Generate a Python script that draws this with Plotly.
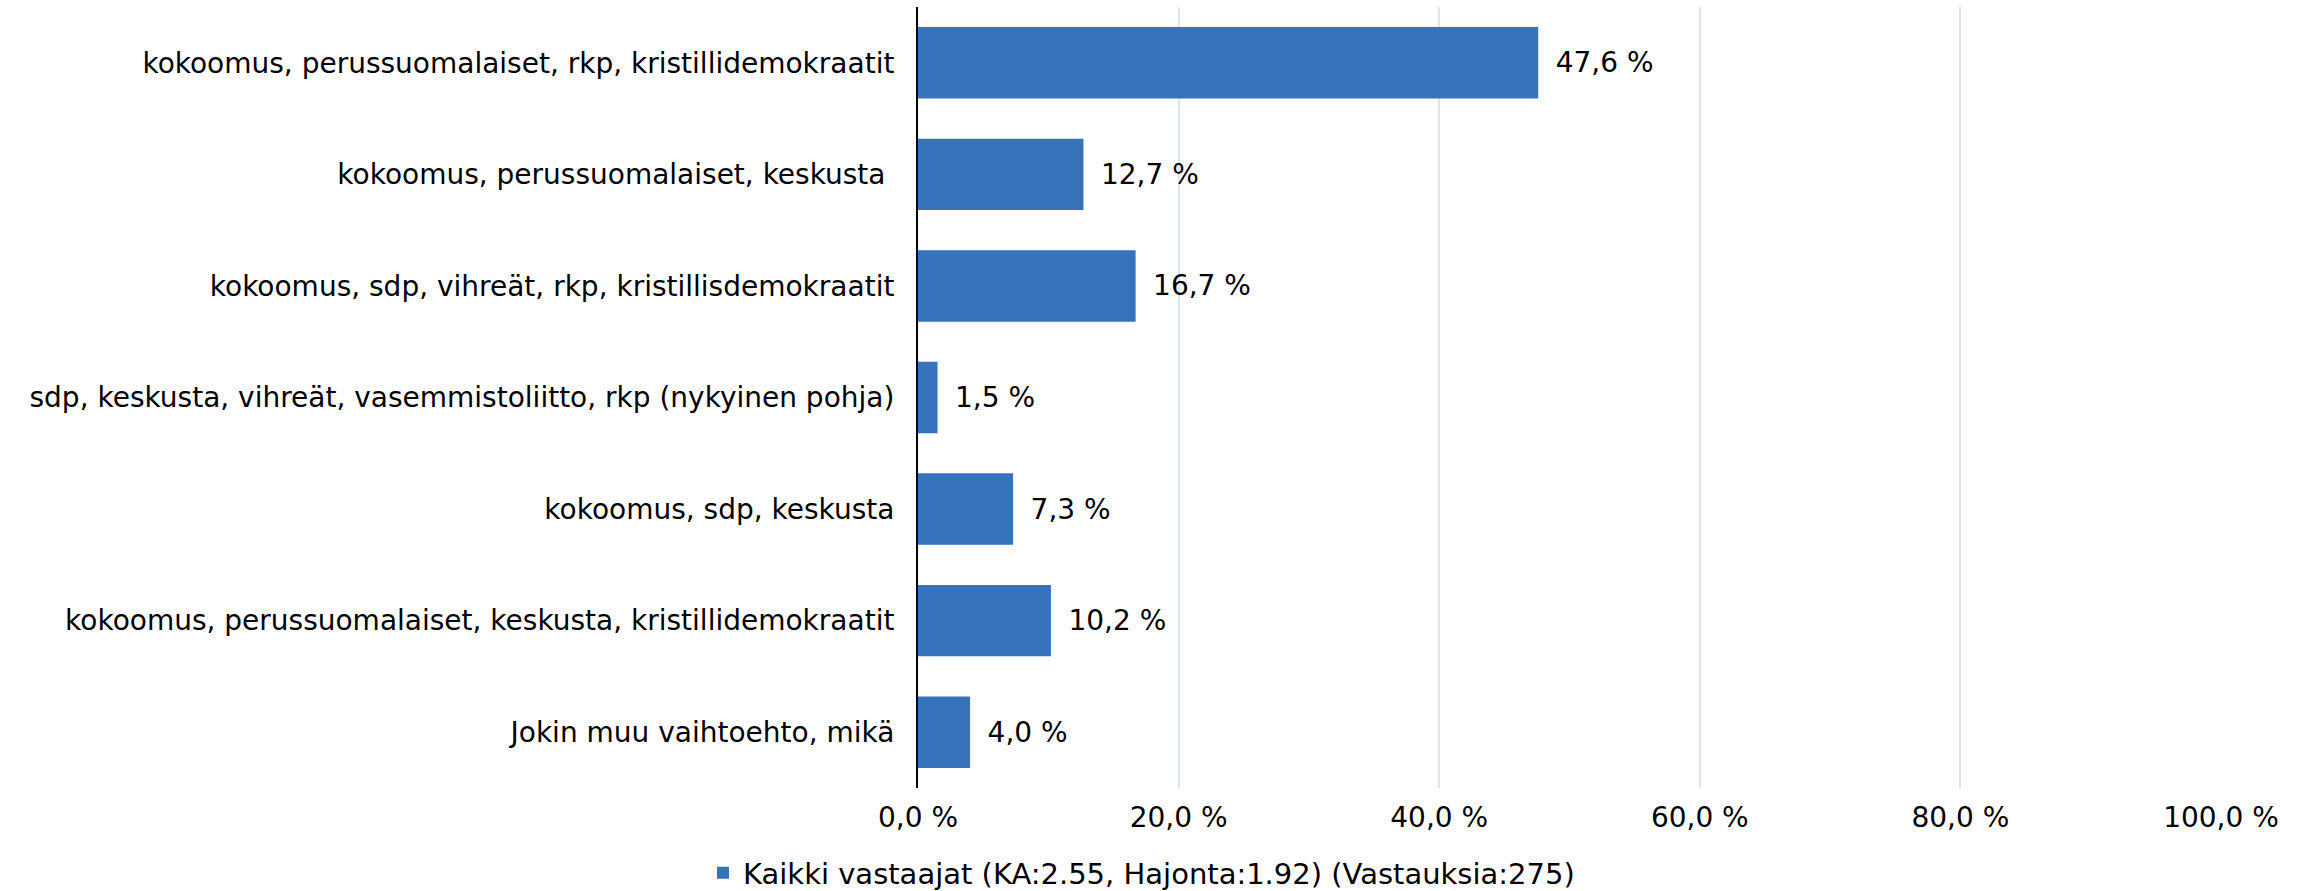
import plotly.graph_objects as go

categories = [
    "kokoomus, perussuomalaiset, rkp, kristillidemokraatit",
    "kokoomus, perussuomalaiset, keskusta\u00a0",
    "kokoomus, sdp, vihreät, rkp, kristillisdemokraatit",
    "sdp, keskusta, vihreät, vasemmistoliitto, rkp (nykyinen pohja)",
    "kokoomus, sdp, keskusta",
    "kokoomus, perussuomalaiset, keskusta, kristillidemokraatit",
    "Jokin muu vaihtoehto, mikä",
]
values = [47.6, 12.7, 16.7, 1.5, 7.3, 10.2, 4.0]
series_name = "Kaikki vastaajat (KA:2.55, Hajonta:1.92) (Vastauksia:275)"
x_tick_vals = [0, 20, 40, 60, 80, 100]
x_tick_text = ["0,0 %", "20,0 %", "40,0 %", "60,0 %", "80,0 %", "100,0 %"]

FONT = "DejaVu Sans"
FS = 28
W, H = 2308, 891
L, R, T, B = 918, 87, 7, 103
pw = W - L - R
ph = H - T - B
plot_bottom = T + ph

fig = go.Figure()
fig.add_trace(go.Bar(
    x=values,
    y=categories,
    orientation="h",
    name=series_name,
    marker=dict(color="#3772BC", line=dict(width=0)),
    texttemplate="\u00a0\u2009%{x:.1f} %",
    textposition="outside",
    cliponaxis=False,
    textfont=dict(family=FONT, size=FS, color="#000000"),
    showlegend=True,
))

fig.update_layout(
    width=W, height=H,
    margin=dict(l=L, r=R, t=T, b=B, autoexpand=False),
    paper_bgcolor="white",
    plot_bgcolor="white",
    separators=", ",
    bargap=0.36,
    font=dict(family=FONT, size=FS, color="#000000"),
    showlegend=True,
    legend=dict(
        orientation="h",
        x=(703 - L) / pw, xanchor="left",
        y=-(873 - plot_bottom) / ph, yanchor="middle",
        font=dict(family=FONT, size=29, color="#000000"),
        itemwidth=30,
        bgcolor="rgba(0,0,0,0)",
    ),
    xaxis=dict(
        range=[0, 100],
        tickvals=x_tick_vals,
        ticktext=x_tick_text,
        showgrid=True,
        gridcolor="#DCE4EF",
        gridwidth=1.5,
        zeroline=False,
        showline=False,
        ticks="",
        ticklabelstandoff=10,
        tickfont=dict(family=FONT, size=FS, color="#000000"),
    ),
    yaxis=dict(
        autorange="reversed",
        showgrid=False,
        zeroline=False,
        showline=True,
        linecolor="#000000",
        linewidth=2,
        ticks="",
        ticklabelstandoff=16,
        tickfont=dict(family=FONT, size=FS, color="#000000"),
    ),
)

fig.write_html(
    "out.html",
    config={"displayModeBar": False},
    post_script="document.body.style.margin='0';document.body.style.overflow='hidden';",
)
